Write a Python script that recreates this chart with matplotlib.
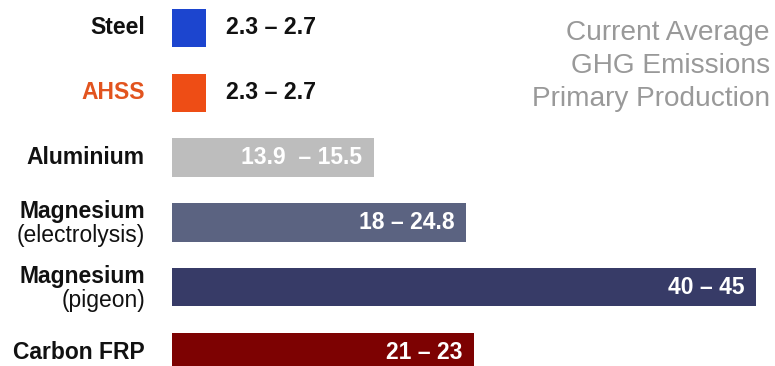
import matplotlib
matplotlib.use('Agg')
import matplotlib.pyplot as plt
import numpy as np

plt.rcParams['font.family'] = ['Liberation Sans', 'DejaVu Sans']

materials = ['Steel', 'AHSS', 'Aluminium', 'Magnesium', 'Magnesium', 'Carbon FRP']
subtitles = ['', '', '', '(electrolysis)', '(pigeon)', '']
low = [2.3, 2.3, 13.9, 18, 40, 21]
high = [2.7, 2.7, 15.5, 24.8, 45, 23]
range_labels = ['2.3 – 2.7', '2.3 – 2.7', '13.9  – 15.5', '18 – 24.8', '40 – 45', '21 – 23']
bar_colors = ['#1c45cf', '#ee4d15', '#bdbdbd', '#5b6381', '#373b67', '#7d0202']
name_colors = ['#111111', '#e2541f', '#111111', '#111111', '#111111', '#111111']

# bar length = middle of the emission range
mid = (np.array(low) + np.array(high)) / 2
y = np.arange(len(materials))

fig = plt.figure(figsize=(7.75, 3.66), dpi=100)
ax = fig.add_axes([172 / 775, 0, 584 / 775, 1])
ax.barh(y, mid, height=0.59, color=bar_colors, edgecolor='none')
ax.set_xlim(0, mid.max())
ax.set_ylim(5.216, -0.432)
ax.axis('off')

name_size = 16.5
for i in range(len(materials)):
    if subtitles[i]:
        ax.annotate(materials[i], (0, y[i]), xytext=(-19.5, 8), textcoords='offset points',
                    ha='right', va='center', fontsize=name_size, fontweight='bold', color=name_colors[i])
        ax.annotate(subtitles[i], (0, y[i]), xytext=(-19.5, -9.5), textcoords='offset points',
                    ha='right', va='center', fontsize=name_size, color=name_colors[i])
    else:
        ax.annotate(materials[i], (0, y[i]), xytext=(-19.5, 0), textcoords='offset points',
                    ha='right', va='center', fontsize=name_size, fontweight='bold', color=name_colors[i])

    # small bars get their value outside, long bars inside in white
    if mid[i] < 5:
        ax.annotate(range_labels[i], (mid[i], y[i]), xytext=(14, 0), textcoords='offset points',
                    ha='left', va='center', fontsize=16.7, fontweight='bold', color='#111111')
    else:
        ax.annotate(range_labels[i], (mid[i], y[i]), xytext=(-8.5, 0), textcoords='offset points',
                    ha='right', va='center', fontsize=16.5, fontweight='bold', color='white')

fig.text(770 / 775, 1 - 20 / 366, 'Current Average\nGHG Emissions\nPrimary Production',
         ha='right', va='top', fontsize=20.2, color='#999999', linespacing=1.36)

fig.savefig('out.png', dpi=100)
